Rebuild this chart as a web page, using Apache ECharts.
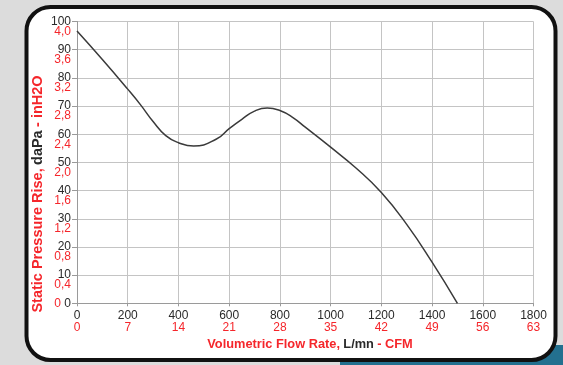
<!DOCTYPE html>
<html>
<head>
    <meta charset="UTF-8">
    <title>Static Pressure Rise</title>
    <style>
        * { margin: 0; padding: 0; }
        html, body { width: 100%; height: 100%; background: #dcdcdc; }
        #chart { width: 563px; height: 365px; }
    </style>
</head>
<body>
    <div id="chart"></div>
    <script src="https://cdn.jsdelivr.net/npm/echarts@6/dist/echarts.min.js"></script>
    <script>
        // curve: flow (L/mn) -> pressure (daPa)
        const flow = [0, 100, 200, 250, 300, 350, 400, 460, 550, 600, 650, 700, 750, 800, 850, 900, 1000, 1100, 1200, 1300, 1400, 1500];
        const pressure = [96.6, 86.5, 76, 70.5, 64.5, 59.5, 57, 55.8, 58.3, 62, 65.3, 68.2, 69.3, 68.4, 66, 62.5, 55.4, 48, 39.3, 28, 14.6, 0];

        // tick labels
        const flowTicks = [0, 200, 400, 600, 800, 1000, 1200, 1400, 1600, 1800];
        const cfmTicks = ['0', '7', '14', '21', '28', '35', '42', '49', '56', '63'];
        const daPaTicks = [0, 10, 20, 30, 40, 50, 60, 70, 80, 90, 100];
        const inH2OTicks = ['0', '0,4', '0,8', '1,2', '1,6', '2,0', '2,4', '2,8', '3,2', '3,6', '4,0'];

        const RED = '#f5262b';
        const DARK = '#2a2a2a';
        const FONT = 'Liberation Sans';

        const chart = echarts.init(document.getElementById('chart'));

        chart.setOption({
            animation: false,
            textStyle: { fontFamily: FONT },
            grid: { left: 77, right: 29.5, top: 21.5, bottom: 61.7 },
            graphic: [
                {
                    type: 'rect', z: -12, silent: true,
                    shape: { x: 340, y: 345, width: 223, height: 20 },
                    style: { fill: '#23708f' }
                },
                {
                    type: 'rect', z: -11, silent: true,
                    shape: { x: 26.5, y: 7, width: 529, height: 353, r: 24 },
                    style: { fill: '#ffffff', stroke: '#111111', lineWidth: 4 }
                },
                {
                    type: 'text', x: 310, y: 344,
                    style: {
                        text: '{r|Volumetric Flow Rate,} {b|L/mn} {r|- CFM}',
                        align: 'center', verticalAlign: 'middle',
                        rich: {
                            r: { fill: RED, fontSize: 12.8, fontWeight: 'bold', fontFamily: FONT },
                            b: { fill: DARK, fontSize: 12.8, fontWeight: 'bold', fontFamily: FONT }
                        }
                    }
                },
                {
                    type: 'text', x: 38, y: 194, rotation: Math.PI / 2,
                    style: {
                        text: '{r|Static Pressure Rise,} {b|daPa} {r|- inH2O}',
                        align: 'center', verticalAlign: 'middle',
                        rich: {
                            r: { fill: RED, fontSize: 14.5, fontWeight: 'bold', fontFamily: FONT },
                            b: { fill: DARK, fontSize: 14.5, fontWeight: 'bold', fontFamily: FONT }
                        }
                    }
                }
            ],
            xAxis: {
                type: 'value',
                min: 0,
                max: 1800,
                interval: 200,
                axisLine: { lineStyle: { color: '#9a9a9a' } },
                axisTick: { show: true, length: 3, lineStyle: { color: '#9a9a9a' } },
                splitLine: { lineStyle: { color: '#c4c4c4' } },
                axisLabel: {
                    margin: 6,
                    formatter: v => {
                        const i = flowTicks.indexOf(v);
                        return '{b|' + v + '}\n{r|' + cfmTicks[i] + '}';
                    },
                    rich: {
                        b: { color: DARK, fontSize: 12, lineHeight: 12, fontFamily: FONT },
                        r: { color: RED, fontSize: 12, lineHeight: 12, fontFamily: FONT }
                    }
                }
            },
            yAxis: [
                {
                    type: 'value',
                    min: 0,
                    max: 100,
                    interval: 10,
                    axisLine: { show: true, lineStyle: { color: '#9a9a9a' } },
                    axisTick: { show: true, length: 5, lineStyle: { color: '#9a9a9a' } },
                    splitLine: { lineStyle: { color: '#c4c4c4' } },
                    axisLabel: {
                        margin: 6,
                        formatter: v => {
                            const i = daPaTicks.indexOf(v);
                            if (i === 0) return '{r|' + inH2OTicks[0] + '} {b|' + v + '}';
                            return '{b|' + v + '}';
                        },
                        rich: {
                            b: { color: DARK, fontSize: 12, fontFamily: FONT },
                            r: { color: RED, fontSize: 12, fontFamily: FONT }
                        }
                    }
                },
                {
                    type: 'value',
                    position: 'left',
                    offset: 0,
                    min: 0,
                    max: 4,
                    interval: 0.4,
                    axisLine: { show: false },
                    axisTick: { show: false },
                    splitLine: { show: false },
                    axisLabel: {
                        margin: 6,
                        color: RED,
                        fontSize: 12,
                        fontFamily: FONT,
                        verticalAlign: 'top',
                        padding: [4, 0, 0, 0],
                        formatter: v => {
                            const i = Math.round(v / 0.4);
                            return i === 0 ? '' : inH2OTicks[i];
                        }
                    }
                }
            ],
            series: [
                {
                    type: 'line',
                    yAxisIndex: 0,
                    data: flow.map((f, i) => [f, pressure[i]]),
                    smooth: 0.5,
                    symbol: 'none',
                    lineStyle: { color: '#3a3a3a', width: 1.5 }
                }
            ]
        });
    </script>
</body>
</html>
